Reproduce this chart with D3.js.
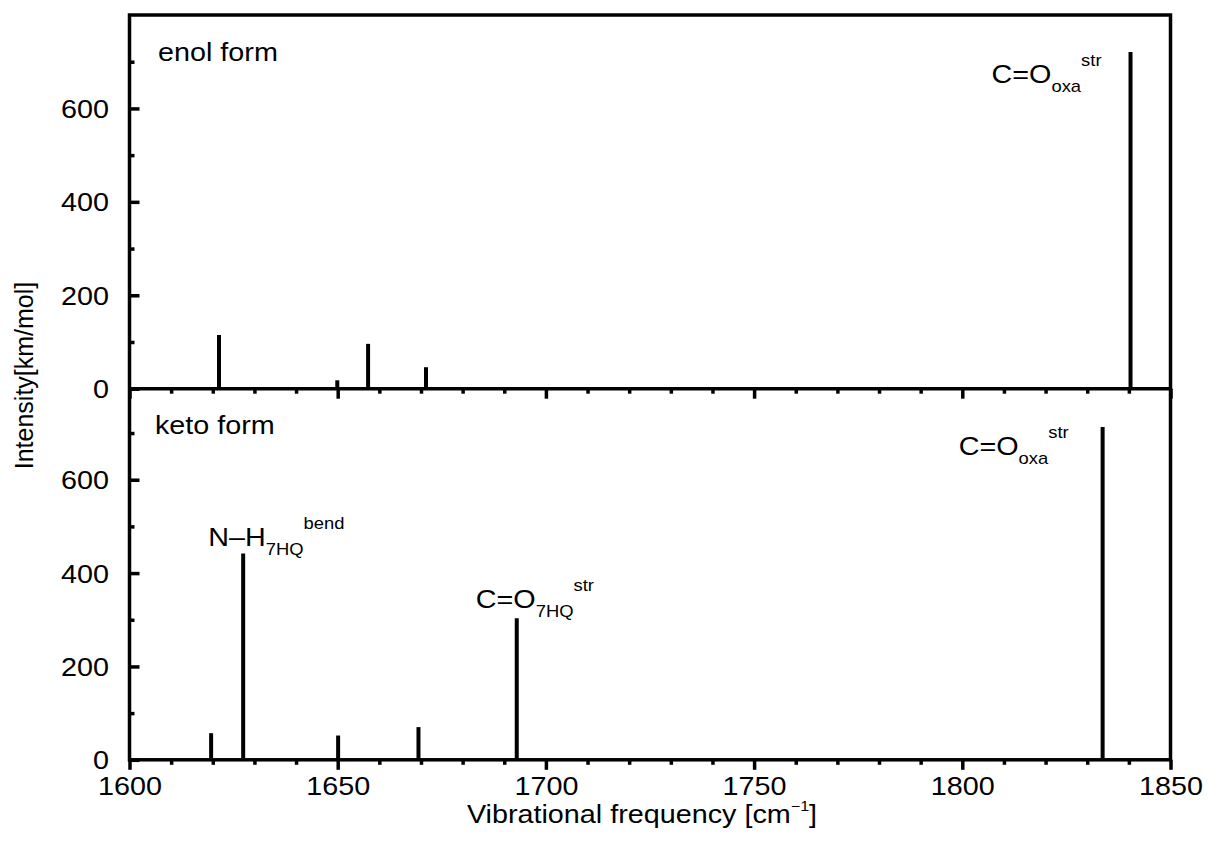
<!DOCTYPE html>
<html>
<head>
<meta charset="utf-8">
<script src="https://cdn.jsdelivr.net/npm/d3@7"></script>
<style>
body { margin: 0; background: #fff; }
text { font-family: "Liberation Sans", Arial, Helvetica, sans-serif; fill: #000; }
</style>
</head>
<body>
<div id="chart"></div>
<script>
// Peak positions (cm-1) and intensities (km/mol), enol form
var enolFreq = [1621.5, 1649.9, 1657.3, 1671.2, 1840.4];
var enolInt  = [115, 18, 96, 46, 721];

// Peak positions and intensities, keto form
var ketoFreq = [1619.6, 1627.3, 1650.1, 1669.4, 1693.0, 1833.7];
var ketoInt  = [57, 442, 52, 70, 303, 713];

// Tick values
var xMajor = [1600, 1650, 1700, 1750, 1800, 1850];
var xMinor = [1610, 1620, 1630, 1640, 1660, 1670, 1680, 1690, 1710, 1720, 1730, 1740,
              1760, 1770, 1780, 1790, 1810, 1820, 1830, 1840];
var yMajor = [0, 200, 400, 600];
var yMinor = [100, 300, 500, 700];

// Panel titles
var panelNames = ["enol form", "keto form"];

// Horizontal stretch of the text in the original figure
var sx = 1.15;

var width = 1209, height = 843;
var left = 129.5, right = 1170.5;
var top1 = 15, mid = 388.7, bottom = 759.8;

var svg = d3.select("#chart")
    .append("svg")
    .attr("width", width)
    .attr("height", height);

var x = d3.scaleLinear().domain([1600, 1850]).range([left, right]);
var yTop = d3.scaleLinear().domain([0, 800]).range([mid, top1]);
var yBot = d3.scaleLinear().domain([0, 795]).range([bottom, mid]);

// stretched text helper
function stretched(tx, ty) {
    return "translate(" + tx + "," + ty + ") scale(" + sx + ",1)";
}

// Draw the axes for one panel
function drawAxes(y, yBase, withLabels) {
    // x major
    var gx = svg.append("g")
        .attr("transform", "translate(0," + yBase + ")")
        .call(d3.axisBottom(x).tickValues(xMajor).tickSize(10).tickSizeOuter(0)
              .tickFormat(withLabels ? d3.format("d") : ""));
    gx.select(".domain").remove();
    gx.selectAll("line").attr("stroke", "#000").attr("stroke-width", 3.5);
    gx.selectAll("text")
        .attr("y", null).attr("dy", null)
        .attr("transform", stretched(0, 35))
        .attr("font-size", 25)
        .attr("font-family", null);

    // x minor
    var gxm = svg.append("g")
        .attr("transform", "translate(0," + yBase + ")")
        .call(d3.axisBottom(x).tickValues(xMinor).tickSize(5).tickSizeOuter(0).tickFormat(""));
    gxm.select(".domain").remove();
    gxm.selectAll("line").attr("stroke", "#000").attr("stroke-width", 3.5);

    // y major
    var gy = svg.append("g")
        .attr("transform", "translate(" + left + ",0)")
        .call(d3.axisLeft(y).tickValues(yMajor).tickSize(-10).tickSizeOuter(0));
    gy.select(".domain").remove();
    gy.selectAll("line").attr("stroke", "#000").attr("stroke-width", 3.5);
    gy.selectAll("text")
        .attr("x", null).attr("dy", "0.36em")
        .attr("transform", stretched(-20.5, 0))
        .attr("text-anchor", "end")
        .attr("font-size", 25)
        .attr("font-family", null);

    // y minor
    var gym = svg.append("g")
        .attr("transform", "translate(" + left + ",0)")
        .call(d3.axisLeft(y).tickValues(yMinor).tickSize(-5).tickSizeOuter(0).tickFormat(""));
    gym.select(".domain").remove();
    gym.selectAll("line").attr("stroke", "#000").attr("stroke-width", 3.5);
}

drawAxes(yTop, mid, false);
drawAxes(yBot, bottom, true);

// Stick spectra
function drawSticks(freq, inten, y) {
    svg.append("g")
        .selectAll("line")
        .data(freq)
        .enter()
        .append("line")
        .attr("x1", function(d) { return x(d); })
        .attr("x2", function(d) { return x(d); })
        .attr("y1", y(0))
        .attr("y2", function(d, i) { return y(inten[i]); })
        .attr("stroke", "#000")
        .attr("stroke-width", 4);
}

drawSticks(enolFreq, enolInt, yTop);
drawSticks(ketoFreq, ketoInt, yBot);

// Frame
svg.append("rect")
    .attr("x", left).attr("y", top1)
    .attr("width", right - left).attr("height", bottom - top1)
    .attr("fill", "none").attr("stroke", "#000").attr("stroke-width", 3.5);
svg.append("line")
    .attr("x1", left).attr("x2", right)
    .attr("y1", mid).attr("y2", mid)
    .attr("stroke", "#000").attr("stroke-width", 3.5);

// Panel titles
svg.append("text").attr("transform", stretched(158, 61)).attr("font-size", 25).text(panelNames[0]);
svg.append("text").attr("transform", stretched(155, 434)).attr("font-size", 25).text(panelNames[1]);

// Peak annotation: main text, subscript, superscript
function annotate(tx, ty, main, sub, sup) {
    var t = svg.append("text")
        .attr("transform", stretched(tx, ty))
        .attr("font-size", 25);
    t.append("tspan").text(main);
    t.append("tspan").attr("font-size", 16).attr("dy", 9).text(sub);
    t.append("tspan").attr("font-size", 16).attr("dy", -26).text(sup);
}

annotate(x(enolFreq[4]) - 139, yTop(enolInt[4]) + 31, "C=O", "oxa", "str");
annotate(x(ketoFreq[5]) - 144, yBot(ketoInt[5]) + 28, "C=O", "oxa", "str");
annotate(x(ketoFreq[1]) - 35, yBot(ketoInt[1]) - 7, "N\u2013H", "7HQ", "bend");
annotate(x(ketoFreq[4]) - 41, yBot(ketoInt[4]) - 10, "C=O", "7HQ", "str");

// Axis titles
var xt = svg.append("text")
    .attr("transform", stretched(642, 823))
    .attr("text-anchor", "middle")
    .attr("font-size", 25);
xt.append("tspan").text("Vibrational frequency [cm");
xt.append("tspan").attr("font-size", 14).attr("dy", -12).text("\u22121");
xt.append("tspan").attr("dy", 12).text("]");

svg.append("text")
    .attr("transform", "translate(33.3,375.5) rotate(-90)")
    .attr("text-anchor", "middle")
    .attr("font-size", 25)
    .text("Intensity[km/mol]");
</script>
</body>
</html>
